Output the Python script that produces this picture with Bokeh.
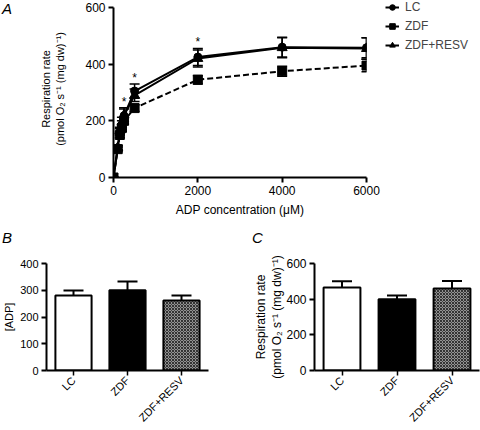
from math import pi
from bokeh.plotting import figure
from bokeh.layouts import column, row
from bokeh.models import (ColumnDataSource, Whisker, TeeHead, Legend, LegendItem,
                          FactorRange, FixedTicker, Div, Range1d)
from bokeh.embed import file_html
from bokeh.resources import INLINE
from bokeh.core.properties import value

FONT = "Liberation Sans"

# ---- Panel A data ----
adp = [0, 100, 150, 200, 250, 500, 2000, 4000, 6000]
lc_mean = [0, 105, 160, 185, 218, 305, 425, 460, 458]
lc_err = [0, 8, 12, 15, 28, 25, 30, 35, 35]
zdf_mean = [0, 100, 150, 175, 200, 245, 345, 375, 395]
zdf_err = [0, 8, 10, 12, 12, 12, 15, 18, 22]
resv_mean = [0, 105, 165, 195, 220, 290, 420, 458, 455]
resv_err = [0, 8, 12, 18, 22, 22, 30, 35, 38]
sig_adp = [250, 500, 2000]
x_ticks_a = [0, 2000, 4000, 6000]
y_ticks_a = [0, 200, 400, 600]
series_names = ["LC", "ZDF", "ZDF+RESV"]

# ---- Panel B data ----
groups = ["LC", "ZDF", "ZDF+RESV"]
kmadp_mean = [280, 300, 262]
kmadp_err = [19, 33, 18]
y_ticks_b = [0, 100, 200, 300, 400]

# ---- Panel C data ----
vmax_mean = [465, 400, 460]
vmax_err = [35, 20, 42]
y_ticks_c = [0, 200, 400, 600]

RESP_LABEL = "Respiration rate\n(pmol O\u2082 s\u207b\u00b9 (mg dw)\u207b\u00b9)"


def style_axes(p, tick_size, label_size):
    for ax in (p.xaxis[0], p.yaxis[0]):
        ax.axis_line_width = 2
        ax.major_tick_line_width = 2
        ax.major_tick_out = 5
        ax.major_tick_in = 0
        ax.minor_tick_line_color = None
        ax.major_label_text_font = FONT
        ax.major_label_text_font_size = tick_size
        ax.major_label_text_color = "black"
        ax.axis_label_text_font = FONT
        ax.axis_label_text_font_size = label_size
        ax.axis_label_text_font_style = "normal"
        ax.axis_label_text_color = "black"
        ax.major_label_standoff = 3
    p.xgrid.visible = False
    p.ygrid.visible = False
    p.outline_line_color = None


def letter_div(txt, w, h, pad_top, pad_left):
    return Div(text=txt, width=w, height=h, margin=0,
               styles={"font-family": FONT, "font-style": "italic", "font-size": "15px",
                       "color": "black", "padding-top": f"{pad_top}px",
                       "padding-left": f"{pad_left}px", "line-height": "17px",
                       "box-sizing": "border-box"})


# series styles
STY = {
    "LC": dict(marker="circle", size=8, dash="solid"),
    "ZDF": dict(marker="square", size=9, dash="6 3"),
    "ZDF+RESV": dict(marker="triangle", size=10, dash="solid"),
}

# ================= Panel A =================
A_W, A_H, A_LEFT, A_RIGHT, A_BOTTOM = 370, 222, 101, 16, 45
frame_h = A_H - A_BOTTOM
pA = figure(width=A_W, height=A_H,
            x_range=Range1d(0, 6000), y_range=Range1d(0, 600 * frame_h / 170),
            output_backend="svg", toolbar_location=None,
            min_border_left=A_LEFT, min_border_right=A_RIGHT,
            min_border_top=0, min_border_bottom=A_BOTTOM)
style_axes(pA, "12px", "12px")
pA.xaxis.ticker = FixedTicker(ticks=x_ticks_a)
pA.yaxis.ticker = FixedTicker(ticks=y_ticks_a)
pA.yaxis.bounds = (0, 600)
pA.xaxis.axis_label = "ADP concentration (\u03bcM)"
pA.xaxis.axis_label_standoff = 5
pA.yaxis.axis_label = RESP_LABEL
pA.yaxis.axis_label_text_font_size = "11px"
pA.yaxis.axis_label_standoff = 16

src = ColumnDataSource(dict(
    x=adp,
    lc=lc_mean, lc_lo=[m - e for m, e in zip(lc_mean, lc_err)], lc_hi=[m + e for m, e in zip(lc_mean, lc_err)],
    zdf=zdf_mean, zdf_lo=[m - e for m, e in zip(zdf_mean, zdf_err)], zdf_hi=[m + e for m, e in zip(zdf_mean, zdf_err)],
    rv=resv_mean, rv_lo=[m - e for m, e in zip(resv_mean, resv_err)], rv_hi=[m + e for m, e in zip(resv_mean, resv_err)],
))

for lo, hi in (("zdf_lo", "zdf_hi"), ("rv_lo", "rv_hi"), ("lc_lo", "lc_hi")):
    w = Whisker(source=src, base="x", lower=lo, upper=hi, line_width=1.5, line_color="black",
                upper_head=TeeHead(size=10, line_width=1.5, line_color="black"),
                lower_head=TeeHead(size=10, line_width=1.5, line_color="black"),
                level="glyph")
    pA.add_layout(w)

for col, name in (("zdf", "ZDF"), ("rv", "ZDF+RESV"), ("lc", "LC")):
    s = STY[name]
    pA.line("x", col, source=src, line_width=2, line_color="black", line_dash=s["dash"])
    pA.scatter("x", col, source=src, marker=s["marker"], size=s["size"], color="black")

sig_y = [lc_mean[adp.index(a)] + lc_err[adp.index(a)] + 22 for a in sig_adp]
pA.text(x=sig_adp, y=sig_y, text=["*"] * len(sig_adp), text_font=value(FONT),
        text_font_size="12px", text_align="center", text_baseline="middle", text_color="black")

# ---- legend panel for A (same styles; proxy renderers sit outside its visible range) ----
# (its frame is aligned with panel A's frame by the row layout)
L_W = 480 - 12 - A_W
pL = figure(width=L_W, height=A_H, x_range=Range1d(0, 1), y_range=Range1d(0, 1),
            x_axis_type=None, y_axis_type=None, output_backend="svg", toolbar_location=None,
            min_border_left=0, min_border_right=0, min_border_top=0, min_border_bottom=0)
pL.xgrid.visible = False
pL.ygrid.visible = False
pL.outline_line_color = None
items = []
for name in series_names:
    s = STY[name]
    ln = pL.line(x=[5, 6], y=[5, 6], line_width=2, line_color="black", line_dash=s["dash"])
    mk = pL.scatter(x=[5], y=[5], marker=s["marker"], size=s["size"], color="black")
    items.append(LegendItem(label=name, renderers=[ln, mk]))
legend = Legend(items=items, location=(3, frame_h - 52), padding=0, margin=0, spacing=5,
                glyph_width=14, glyph_height=14, label_height=14, label_standoff=6,
                label_text_font=FONT, label_text_font_size="12px",
                background_fill_alpha=0, border_line_alpha=0)
pL.add_layout(legend)

divA = letter_div("A", 12, A_H, 0, 2)

# ================= Panel B =================
pB = figure(width=250, height=186, x_range=FactorRange(*groups, range_padding=0), y_range=(0, 400),
            output_backend="svg", toolbar_location=None,
            min_border_left=42, min_border_right=42, min_border_top=19, min_border_bottom=57)
style_axes(pB, "11px", "11px")
pB.yaxis.ticker = FixedTicker(ticks=y_ticks_b)
pB.yaxis.axis_label = "[ADP]"
pB.yaxis.axis_label_standoff = 2
pB.xaxis.major_label_orientation = pi / 4
pB.xaxis.major_tick_line_width = 1.5

srcB = ColumnDataSource(dict(x=groups, top=kmadp_mean,
                             hi=[m + e for m, e in zip(kmadp_mean, kmadp_err)],
                             fill=["white", "black", "#929292"],
                             hatch=[" ", " ", "diagonal_cross"]))
pB.add_layout(Whisker(source=srcB, base="x", lower="top", upper="hi", line_width=2, line_color="black",
                      upper_head=TeeHead(size=20, line_width=2, line_color="black"), lower_head=None,
                      level="underlay"))
pB.vbar(x="x", top="top", bottom=0, width=0.67, source=srcB, fill_color="fill", line_color="black",
        line_width=2, hatch_pattern="hatch", hatch_color="#333333", hatch_scale=3, hatch_weight=1)

divB = letter_div("B", 250, 22, 7, 2)

# ================= Panel C =================
pC = figure(width=230, height=186, x_range=FactorRange(*groups, range_padding=0), y_range=(0, 600),
            output_backend="svg", toolbar_location=None,
            min_border_left=61, min_border_right=1, min_border_top=17, min_border_bottom=58)
style_axes(pC, "12px", "12px")
pC.yaxis.ticker = FixedTicker(ticks=y_ticks_c)
pC.yaxis.axis_label = RESP_LABEL
pC.yaxis.axis_label_standoff = -1
pC.xaxis.major_label_orientation = pi / 4
pC.xaxis.major_label_text_font_size = "11px"
pC.xaxis.major_tick_line_width = 1.5

srcC = ColumnDataSource(dict(x=groups, top=vmax_mean,
                             hi=[m + e for m, e in zip(vmax_mean, vmax_err)],
                             fill=["white", "black", "#929292"],
                             hatch=[" ", " ", "diagonal_cross"]))
pC.add_layout(Whisker(source=srcC, base="x", lower="top", upper="hi", line_width=2, line_color="black",
                      upper_head=TeeHead(size=20, line_width=2, line_color="black"), lower_head=None,
                      level="underlay"))
pC.vbar(x="x", top="top", bottom=0, width=0.67, source=srcC, fill_color="fill", line_color="black",
        line_width=2, hatch_pattern="hatch", hatch_color="#333333", hatch_scale=3, hatch_weight=1)

divC = letter_div("C", 230, 22, 7, 2)

layout = column(row(divA, pA, pL, spacing=0),
                row(divB, divC, spacing=0),
                row(pB, pC, spacing=0), spacing=0)
open("out.html", "w").write(file_html(layout, INLINE))
